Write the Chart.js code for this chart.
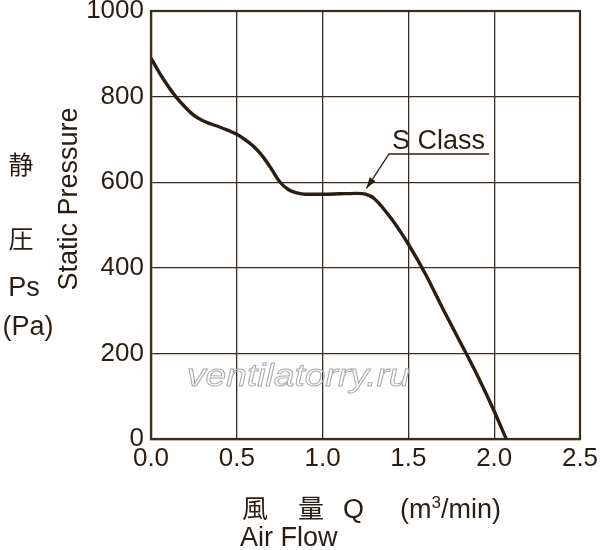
<!DOCTYPE html>
<html>
<head>
<meta charset="utf-8">
<script src="https://cdn.jsdelivr.net/npm/chart.js@4"></script>
<style>
html,body{margin:0;padding:0;background:#fff;}
#wrap{width:600px;height:550px;position:relative;}
</style>
</head>
<body>
<div id="wrap"><canvas id="c" width="600" height="550"></canvas></div>
<script>
const flowQ = [0.0, 0.05, 0.1, 0.15, 0.2, 0.25, 0.3, 0.35, 0.4, 0.45, 0.5, 0.55, 0.6, 0.65, 0.7, 0.75, 0.8, 0.85, 0.9, 1.0, 1.1, 1.2, 1.25, 1.3, 1.4, 1.5, 1.6, 1.7, 1.8, 1.9, 2.0, 2.07];
const pressurePa = [890, 855, 824, 797, 775, 756, 744, 736, 729, 721, 712, 699, 683, 661, 632, 601, 583, 575, 572, 572, 573, 574, 572, 562, 515, 455, 385, 305, 228, 150, 65, 0];
const xTicks = [0.0, 0.5, 1.0, 1.5, 2.0, 2.5];
const yTicks = [0, 200, 400, 600, 800, 1000];
const seriesLabel = 'S Class';
const annotPoint = [1.25, 576];

const INK = '#2a1e12';
const GRID = '#3a2d1e';
const FONT = '"Liberation Sans", Arial, sans-serif';
const CJK = '"Noto Sans CJK JP", "Noto Sans CJK SC", sans-serif';

const decor = {
  id: 'decor',
  afterDraw(chart) {
    const ctx = chart.ctx;
    const xs = chart.scales.x, ys = chart.scales.y;
    ctx.save();
    // watermark
    ctx.save();
    ctx.translate(187, 386);
    ctx.scale(1.2, 1);
    ctx.font = 'italic 31px ' + FONT;
    ctx.strokeStyle = '#a8a8a8';
    ctx.lineWidth = 0.9;
    ctx.textAlign = 'left';
    ctx.textBaseline = 'alphabetic';
    ctx.strokeText('ventilatorry.ru', 0, 0);
    ctx.restore();

    ctx.fillStyle = INK;
    // left CJK labels
    ctx.font = '25px ' + CJK;
    ctx.textAlign = 'center';
    ctx.textBaseline = 'middle';
    ctx.fillText('静', 21, 164);
    ctx.fillText('圧', 21, 238);
    ctx.font = '27px ' + FONT;
    ctx.fillText('Ps', 24, 289);
    ctx.fillText('(Pa)', 28, 328);
    // rotated title
    ctx.save();
    ctx.translate(70, 199);
    ctx.rotate(-Math.PI / 2);
    ctx.font = '27px ' + FONT;
    ctx.fillText('Static Pressure', 0, 0);
    ctx.restore();
    // x title
    ctx.textAlign = 'left';
    ctx.textBaseline = 'alphabetic';
    ctx.font = '26px ' + CJK;
    ctx.fillText('風', 242, 518);
    ctx.fillText('量', 298, 518);
    ctx.font = '27px ' + FONT;
    ctx.fillText('Q', 343, 518);
    ctx.fillText('(m', 400, 518);
    let w = ctx.measureText('(m').width;
    ctx.font = '17px ' + FONT;
    ctx.fillText('3', 400 + w, 508);
    let w2 = ctx.measureText('3').width;
    ctx.font = '27px ' + FONT;
    ctx.fillText('/min)', 400 + w + w2, 518);
    ctx.fillText('Air Flow', 240, 546);

    // S Class annotation
    const tx = xs.getPixelForValue(annotPoint[0]) + 1;
    const ty = ys.getPixelForValue(annotPoint[1]) - 4;
    const ux0 = 389, uy = 154, ux1 = 489;
    ctx.font = '27px ' + FONT;
    ctx.fillText(seriesLabel, 392, 149);
    ctx.strokeStyle = INK;
    ctx.lineWidth = 1.3;
    ctx.beginPath();
    ctx.moveTo(ux1, uy);
    ctx.lineTo(ux0, uy);
    ctx.lineTo(tx, ty);
    ctx.stroke();
    // arrow head
    const ang = Math.atan2(ty - uy, tx - ux0);
    const L = 11, H = 3.5;
    ctx.beginPath();
    ctx.moveTo(tx, ty);
    ctx.lineTo(tx - L * Math.cos(ang) + H * Math.sin(ang), ty - L * Math.sin(ang) - H * Math.cos(ang));
    ctx.lineTo(tx - L * Math.cos(ang) - H * Math.sin(ang), ty - L * Math.sin(ang) + H * Math.cos(ang));
    ctx.closePath();
    ctx.fillStyle = INK;
    ctx.fill();
    ctx.restore();
  }
};

new Chart(document.getElementById('c'), {
  type: 'line',
  data: {
    datasets: [{
      label: seriesLabel,
      data: flowQ.map((q, i) => ({ x: q, y: pressurePa[i] })),
      borderColor: INK,
      borderWidth: 3.4,
      pointRadius: 0,
      fill: false,
      cubicInterpolationMode: 'monotone'
    }]
  },
  options: {
    responsive: false,
    animation: false,
    devicePixelRatio: 1,
    layout: { padding: { left: 0, right: 20, top: 11, bottom: 0 } },
    plugins: { legend: { display: false }, tooltip: { enabled: false } },
    scales: {
      x: {
        type: 'linear', min: 0, max: 2.5,
        afterBuildTicks(s) { s.ticks = xTicks.map(v => ({ value: v })); },
        afterFit(s) { s.height = 111; s.paddingLeft = 0; s.paddingRight = 0; },
        grid: { color: GRID, lineWidth: 1.3, drawTicks: false },
        border: { color: GRID, width: 2.2 },
        ticks: {
          padding: 4, color: INK, maxRotation: 0,
          font: { family: FONT, size: 26 },
          callback: v => v.toFixed(1)
        }
      },
      y: {
        type: 'linear', min: 0, max: 1000,
        afterBuildTicks(s) { s.ticks = yTicks.map(v => ({ value: v })); },
        afterFit(s) { s.width = 151; s.paddingTop = 0; s.paddingBottom = 0; },
        grid: { color: GRID, lineWidth: 1.3, drawTicks: false },
        border: { color: GRID, width: 2.2 },
        ticks: {
          padding: 7, color: INK,
          font: { family: FONT, size: 26 },
          callback: v => String(v)
        }
      }
    }
  },
  plugins: [decor, {
    id: 'frame',
    afterDatasetsDraw(chart) {
      const a = chart.chartArea, ctx = chart.ctx;
      ctx.save();
      ctx.strokeStyle = GRID;
      ctx.lineWidth = 2.2;
      ctx.strokeRect(a.left, a.top, a.right - a.left, a.bottom - a.top);
      ctx.restore();
    }
  }]
});
</script>
</body>
</html>
